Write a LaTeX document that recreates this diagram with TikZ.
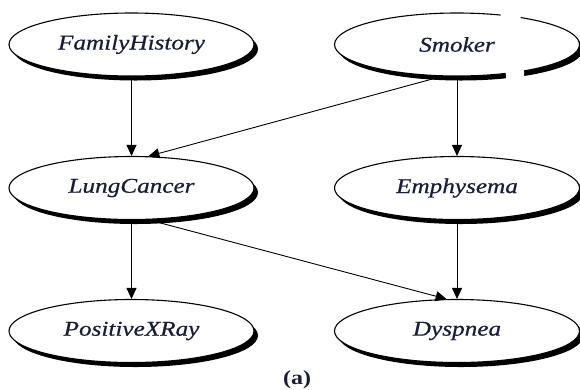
\documentclass[tikz,border=0pt]{standalone}
\usepackage{fontspec}
\setmainfont{Liberation Serif}
\newfontfamily\lblfont[FakeStretch=1.2,FakeBold=0.6]{Liberation Serif}
\newfontfamily\capfont[FakeStretch=1.2]{Liberation Serif}
\usetikzlibrary{shapes.geometric,shadows,arrows.meta}
\definecolor{ink}{RGB}{24,30,58}
\begin{document}
\begin{tikzpicture}[x=1pt,y=-1pt,
  var/.style={ellipse, draw=black, line width=1.1pt, fill=white,
    minimum width=245pt, minimum height=63pt, inner sep=0pt,
    font=\lblfont\itshape\fontsize{21}{24}\selectfont, text=ink,
    general shadow={fill=black, shadow xshift=4pt, shadow yshift=-4.5pt}},
  link/.style={draw=black, line width=0.9pt, -{Triangle[length=11pt,width=10pt]}}]
\useasboundingbox (0,0) rectangle (580,389);

% variables of the belief network
\node[var] (fh) at (131.5,44.5) {FamilyHistory};
\node[var] (sm) at (457,44.5)   {Smoker};
\node[var] (lc) at (131.5,188)  {LungCancer};
\node[var] (em) at (457,188)    {Emphysema};
\node[var] (px) at (131.5,331)  {PositiveXRay};
\node[var] (dy) at (457,331)    {Dyspnea};

% break in the Smoker outline
\fill[white] (500,8) -- (520,8) -- (525,88) -- (507,88) -- cycle;

% dependencies
\draw[link] (fh.south) -- (lc.north);
\draw[link] (sm.245) -- (lc.62);
\draw[link] (sm.south) -- (em.north);
\draw[link] (lc.south) -- (px.north);
\draw[link] (lc.298) -- (dy.108);
\draw[link] (em.south) -- (dy.north);

\node[font=\capfont\bfseries\fontsize{20}{22}\selectfont, text=ink] (cap) at (297,380) {(a)};
\end{tikzpicture}
\end{document}
